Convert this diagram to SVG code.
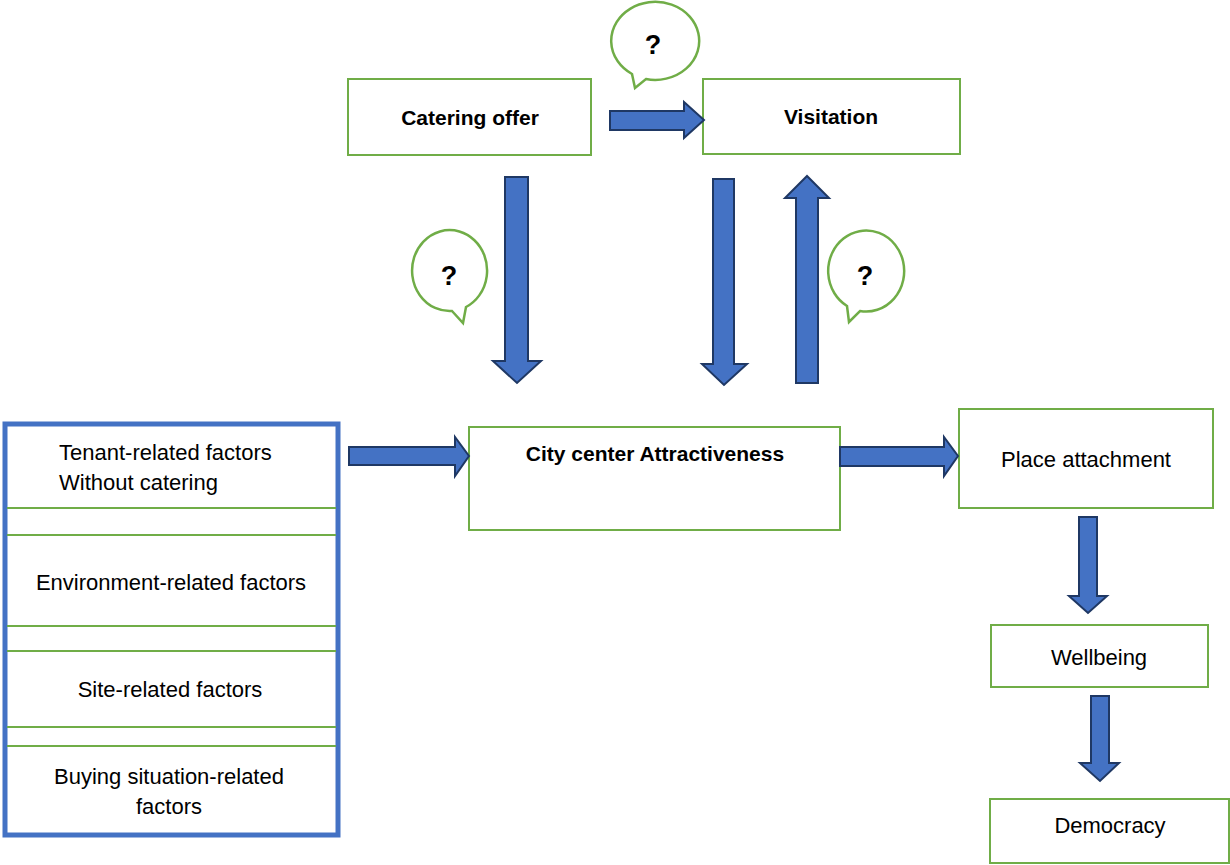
<svg xmlns="http://www.w3.org/2000/svg" width="1230" height="865" viewBox="0 0 1230 865">
<style>
.box{fill:#fff;stroke:#70AD47;stroke-width:2}
.arr{fill:#4472C4;stroke:#1F3864;stroke-width:2;stroke-linejoin:miter}
.bub{fill:#fff;stroke:#70AD47;stroke-width:2.5}
.t{font-family:"Liberation Sans",Arial,sans-serif;font-size:22px;fill:#000}
.b{font-weight:bold;font-size:21px}
.q{font-family:"Liberation Sans",Arial,sans-serif;font-weight:bold;font-size:27px;fill:#000}
.sep{stroke:#70AD47;stroke-width:2}
</style>
<rect width="1230" height="865" fill="#fff"/>
<g id="catering">
<rect class="box" x="348" y="79" width="243" height="76"/>
<text class="t b" x="470" y="125" text-anchor="middle">Catering offer</text>
</g>
<g id="visitation">
<rect class="box" x="703" y="79" width="257" height="75"/>
<text class="t b" x="831" y="124" text-anchor="middle">Visitation</text>
</g>
<g id="city">
<rect class="box" x="469" y="427" width="371" height="103"/>
<text class="t b" x="655" y="461" text-anchor="middle">City center Attractiveness</text>
</g>
<g id="place">
<rect class="box" x="959" y="409" width="254" height="99"/>
<text class="t" x="1086" y="467" text-anchor="middle">Place attachment</text>
</g>
<g id="wellbeing">
<rect class="box" x="991" y="625" width="217" height="62"/>
<text class="t" x="1099" y="665" text-anchor="middle">Wellbeing</text>
</g>
<g id="democracy">
<rect class="box" x="990" y="799" width="239" height="64"/>
<text class="t" x="1110" y="833" text-anchor="middle">Democracy</text>
</g>
<g id="factors">
<rect x="5" y="424" width="333" height="411" fill="#fff" stroke="#4472C4" stroke-width="5"/>
<line class="sep" x1="7" y1="508" x2="336" y2="508"/>
<line class="sep" x1="7" y1="535" x2="336" y2="535"/>
<line class="sep" x1="7" y1="626" x2="336" y2="626"/>
<line class="sep" x1="7" y1="651" x2="336" y2="651"/>
<line class="sep" x1="7" y1="727" x2="336" y2="727"/>
<line class="sep" x1="7" y1="746" x2="336" y2="746"/>
<text class="t" x="59" y="460">Tenant-related factors</text>
<text class="t" x="59" y="490">Without catering</text>
<text class="t" x="171" y="590" text-anchor="middle">Environment-related factors</text>
<text class="t" x="170" y="697" text-anchor="middle">Site-related factors</text>
<text class="t" x="169" y="784" text-anchor="middle">Buying situation-related</text>
<text class="t" x="169" y="814" text-anchor="middle">factors</text>
</g>
<g id="bubbles">
<path class="bub" d="M632,74 L635,88 L646,79 A44 39 0 1 0 632,74 Z"/>
<text class="q" x="653" y="54" text-anchor="middle">?</text>
<path class="bub" d="M452,311 L463,323 L466,307 A37.5 40.5 0 1 0 452,311 Z"/>
<text class="q" x="449" y="285" text-anchor="middle">?</text>
<path class="bub" d="M847,306 L849,322 L860,311 A38 40.5 0 1 0 847,306 Z"/>
<text class="q" x="865" y="285" text-anchor="middle">?</text>
</g>
<g id="connectors">
<polygon class="arr" points="610,111 684,111 684,102 704,120 684,138 684,130 610,130"/>
<polygon class="arr" points="505,177 528,177 528,361 541,361 517,383 493,361 505,361"/>
<polygon class="arr" points="713,179 734,179 734,364 747,364 724,385 702,364 713,364"/>
<polygon class="arr" points="796,383 818,383 818,198 829,198 807,176 785,198 796,198"/>
<polygon class="arr" points="349,447 455,447 455,437 469,456 455,476 455,465 349,465"/>
<polygon class="arr" points="840,447 944,447 944,437 958,456 944,476 944,466 840,466"/>
<polygon class="arr" points="1079,517 1097,517 1097,596 1107,596 1088,613 1069,596 1079,596"/>
<polygon class="arr" points="1091,696 1109,696 1109,763 1119,763 1100,781 1080,763 1091,763"/>
</g>
</svg>
